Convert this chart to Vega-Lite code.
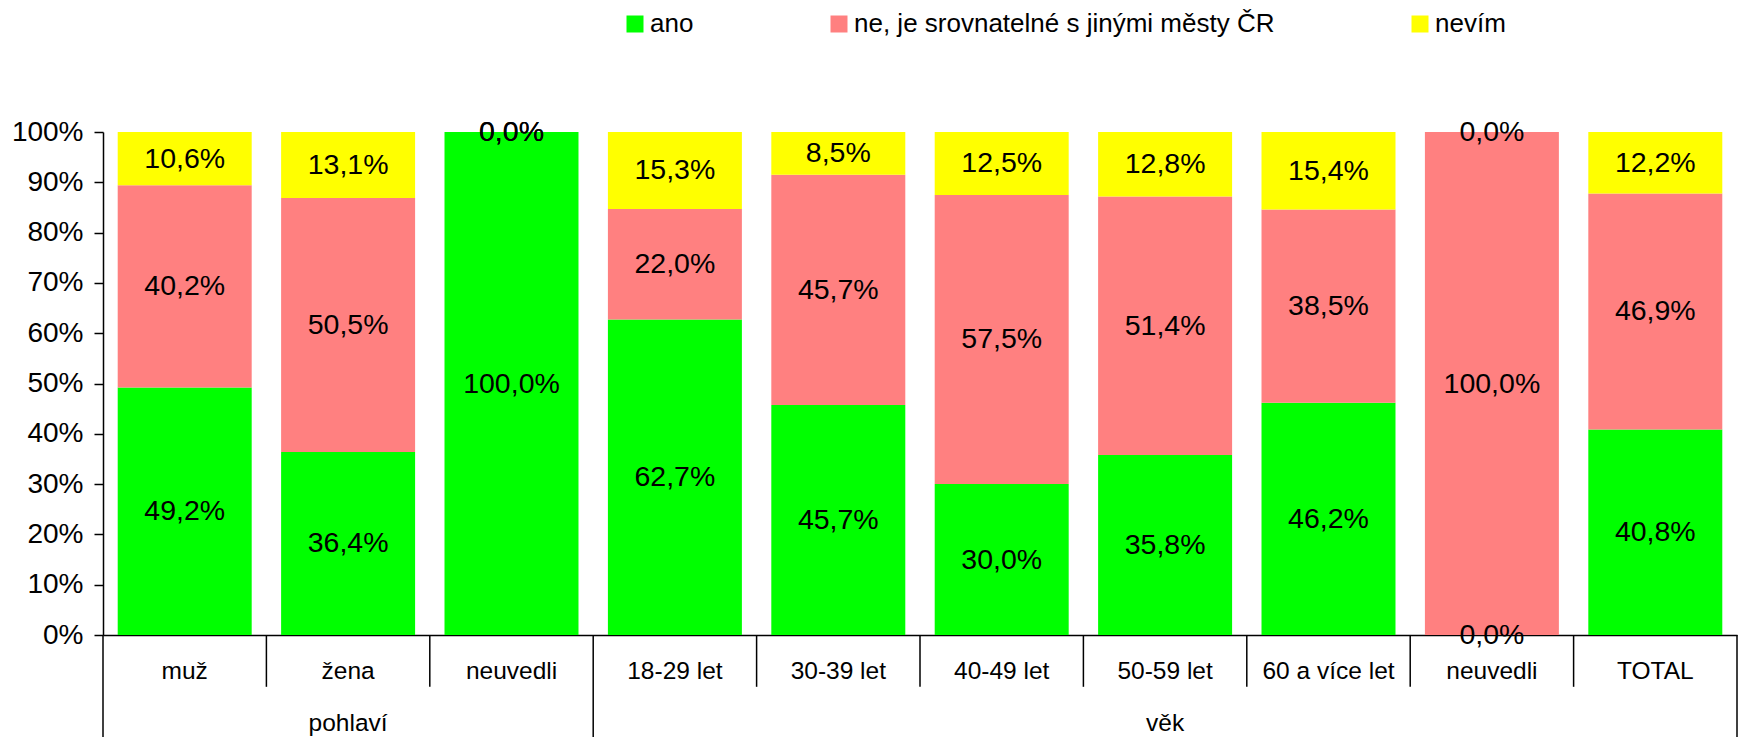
{
  "$schema": "https://vega.github.io/schema/vega-lite/v6.json",
  "width": 1634,
  "height": 503,
  "autosize": {"type": "none"},
  "padding": {"left": 103, "top": 132, "right": 7, "bottom": 102},
  "background": "white",
  "config": {
    "view": {"stroke": null},
    "font": "Liberation Sans",
    "text": {"font": "Liberation Sans", "color": "black"},
    "axis": {"labelFont": "Liberation Sans", "titleFont": "Liberation Sans"},
    "legend": {"labelFont": "Liberation Sans"}
  },
  "datasets": {
    "bars": [
      {"id": "c01", "answer": "ano", "value": 49.2},
      {"id": "c01", "answer": "ne, je srovnatelné s jinými městy ČR", "value": 40.2},
      {"id": "c01", "answer": "nevím", "value": 10.6},
      {"id": "c02", "answer": "ano", "value": 36.4},
      {"id": "c02", "answer": "ne, je srovnatelné s jinými městy ČR", "value": 50.5},
      {"id": "c02", "answer": "nevím", "value": 13.1},
      {"id": "c03", "answer": "ano", "value": 100.0},
      {"id": "c03", "answer": "ne, je srovnatelné s jinými městy ČR", "value": 0.0},
      {"id": "c03", "answer": "nevím", "value": 0.0},
      {"id": "c04", "answer": "ano", "value": 62.7},
      {"id": "c04", "answer": "ne, je srovnatelné s jinými městy ČR", "value": 22.0},
      {"id": "c04", "answer": "nevím", "value": 15.3},
      {"id": "c05", "answer": "ano", "value": 45.7},
      {"id": "c05", "answer": "ne, je srovnatelné s jinými městy ČR", "value": 45.7},
      {"id": "c05", "answer": "nevím", "value": 8.5},
      {"id": "c06", "answer": "ano", "value": 30.0},
      {"id": "c06", "answer": "ne, je srovnatelné s jinými městy ČR", "value": 57.5},
      {"id": "c06", "answer": "nevím", "value": 12.5},
      {"id": "c07", "answer": "ano", "value": 35.8},
      {"id": "c07", "answer": "ne, je srovnatelné s jinými městy ČR", "value": 51.4},
      {"id": "c07", "answer": "nevím", "value": 12.8},
      {"id": "c08", "answer": "ano", "value": 46.2},
      {"id": "c08", "answer": "ne, je srovnatelné s jinými městy ČR", "value": 38.5},
      {"id": "c08", "answer": "nevím", "value": 15.4},
      {"id": "c09", "answer": "ano", "value": 0.0},
      {"id": "c09", "answer": "ne, je srovnatelné s jinými městy ČR", "value": 100.0},
      {"id": "c09", "answer": "nevím", "value": 0.0},
      {"id": "c10", "answer": "ano", "value": 40.8},
      {"id": "c10", "answer": "ne, je srovnatelné s jinými městy ČR", "value": 46.9},
      {"id": "c10", "answer": "nevím", "value": 12.2}
    ],
    "cats": [
      {"id": "c01", "label": "muž", "group": "pohlaví"},
      {"id": "c02", "label": "žena", "group": "pohlaví"},
      {"id": "c03", "label": "neuvedli", "group": "pohlaví"},
      {"id": "c04", "label": "18-29 let", "group": "věk"},
      {"id": "c05", "label": "30-39 let", "group": "věk"},
      {"id": "c06", "label": "40-49 let", "group": "věk"},
      {"id": "c07", "label": "50-59 let", "group": "věk"},
      {"id": "c08", "label": "60 a více let", "group": "věk"},
      {"id": "c09", "label": "neuvedli", "group": "věk"},
      {"id": "c10", "label": "TOTAL", "group": "věk"}
    ]
  },
  "layer": [
    {
      "data": {"name": "bars"},
      "transform": [
        {"calculate": "indexof(['ano','ne, je srovnatelné s jinými městy ČR','nevím'], datum.answer)", "as": "ord"},
        {"stack": "value", "groupby": ["id"], "sort": [{"field": "ord"}], "offset": "normalize", "as": ["y0", "y1"]}
      ],
      "mark": {"type": "bar", "width": {"band": 0.82}},
      "encoding": {
        "x": {
          "field": "id", "type": "nominal",
          "scale": {"domain": ["c01","c02","c03","c04","c05","c06","c07","c08","c09","c10"], "paddingInner": 0, "paddingOuter": 0},
          "axis": {"labels": false, "ticks": false, "domain": true, "domainColor": "black", "domainWidth": 1.5, "title": null, "grid": false}
        },
        "y": {
          "field": "y0", "type": "quantitative",
          "scale": {"domain": [0, 1], "nice": false, "zero": false},
          "axis": {
            "values": [0, 0.1, 0.2, 0.3, 0.4, 0.5, 0.6, 0.7, 0.8, 0.9, 1],
            "format": ".0%", "title": null, "grid": false,
            "labelFontSize": 28, "labelColor": "black",
            "tickColor": "black", "tickSize": 9, "tickWidth": 1.5,
            "domainColor": "black", "domainWidth": 1.5, "labelPadding": 11
          }
        },
        "y2": {"field": "y1"},
        "color": {
          "field": "answer", "type": "nominal",
          "scale": {"domain": ["ano", "ne, je srovnatelné s jinými městy ČR", "nevím"], "range": ["#00FF00", "#FF8080", "#FFFF00"]},
          "legend": {
            "orient": "none", "legendX": 519, "legendY": -121, "direction": "horizontal",
            "title": null, "symbolType": "square", "symbolSize": 289, "symbolStrokeWidth": 0,
            "labelFontSize": 26, "labelColor": "black", "labelOffset": 2, "columnPadding": 132, "labelLimit": 0
          }
        }
      }
    },
    {
      "data": {"name": "bars"},
      "transform": [
        {"calculate": "indexof(['ano','ne, je srovnatelné s jinými městy ČR','nevím'], datum.answer)", "as": "ord"},
        {"stack": "value", "groupby": ["id"], "sort": [{"field": "ord"}], "offset": "normalize", "as": ["y0", "y1"]},
        {"calculate": "(datum.y0 + datum.y1) / 2", "as": "mid"},
        {"calculate": "replace(format(datum.value / 100, '.1%'), '.', ',')", "as": "lab"}
      ],
      "mark": {"type": "text", "fontSize": 28.5, "baseline": "middle", "align": "center", "color": "black"},
      "encoding": {
        "x": {"field": "id", "type": "nominal"},
        "y": {"field": "mid", "type": "quantitative"},
        "text": {"field": "lab"}
      }
    },
    {
      "data": {"name": "cats"},
      "transform": [{"filter": "datum.id != 'c01' && datum.id != 'c04'"}],
      "mark": {"type": "rule", "color": "black", "strokeWidth": 1.5},
      "encoding": {
        "x": {"field": "id", "type": "nominal", "bandPosition": 0},
        "y": {"datum": 0},
        "y2": {"datum": -0.103}
      }
    },
    {
      "data": {"name": "cats"},
      "transform": [{"filter": "datum.id == 'c01' || datum.id == 'c04'"}],
      "mark": {"type": "rule", "color": "black", "strokeWidth": 1.5},
      "encoding": {
        "x": {"field": "id", "type": "nominal", "bandPosition": 0},
        "y": {"datum": 0},
        "y2": {"datum": -0.21}
      }
    },
    {
      "data": {"name": "cats"},
      "transform": [{"filter": "datum.id == 'c10'"}],
      "mark": {"type": "rule", "color": "black", "strokeWidth": 1.5},
      "encoding": {
        "x": {"field": "id", "type": "nominal", "bandPosition": 1},
        "y": {"datum": 0},
        "y2": {"datum": -0.21}
      }
    },
    {
      "data": {"name": "cats"},
      "mark": {"type": "text", "fontSize": 24.5, "baseline": "alphabetic", "align": "center", "color": "black"},
      "encoding": {
        "x": {"field": "id", "type": "nominal"},
        "y": {"datum": -0.0875},
        "text": {"field": "label"}
      }
    },
    {
      "data": {"name": "cats"},
      "transform": [{"filter": "datum.id == 'c02' || datum.id == 'c07'"}],
      "mark": {"type": "text", "fontSize": 24.5, "baseline": "alphabetic", "align": "center", "color": "black"},
      "encoding": {
        "x": {"field": "id", "type": "nominal"},
        "y": {"datum": -0.19},
        "text": {"field": "group"}
      }
    }
  ]
}
